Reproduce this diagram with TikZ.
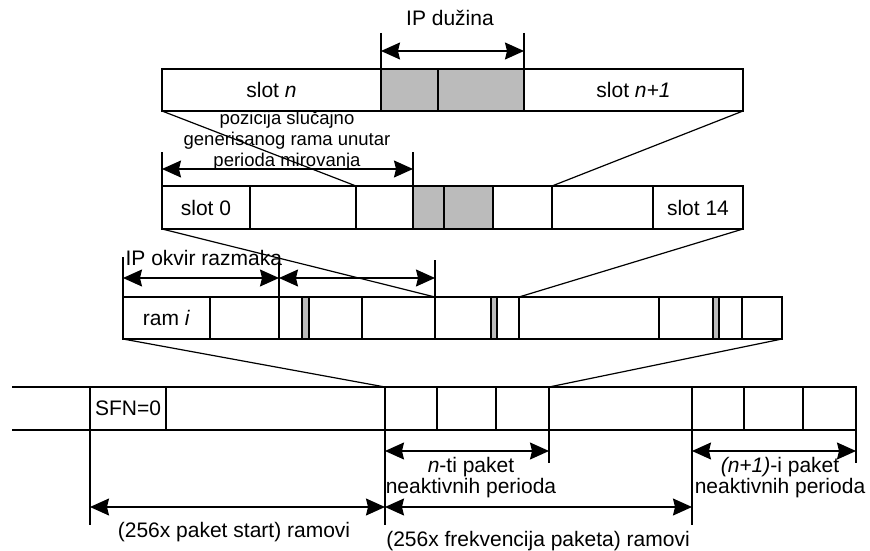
\documentclass[tikz,border=0pt]{standalone}
\usepackage{fontspec}
\setmainfont{Liberation Sans}
\usetikzlibrary{positioning,arrows.meta}
\definecolor{ipgray}{RGB}{187,187,187}

\begin{document}
\begin{tikzpicture}[x=1pt, y=-1pt, line width=1.2pt,
    every node/.style={font=\fontsize{21}{21}\selectfont},
    cell/.style={draw, inner sep=0pt, outer sep=0pt, minimum height=42pt},
    ipcell/.style={cell, fill=ipgray},
    dimtip/.tip={Stealth[length=19pt, width=17pt, inset=2pt]},
    dim/.style={dimtip-dimtip}]
      \useasboundingbox (0,0) rectangle (870,551);
      % place nodes
      \node (s1) [cell, minimum width=219pt, anchor=west] at (162,90) {slot \textit{n}};
      \node (s2) [ipcell, minimum width=57pt, right=0pt of s1] {};
      \node (s3) [ipcell, minimum width=86pt, right=0pt of s2] {};
      \node (s4) [cell, minimum width=219pt, right=0pt of s3] {slot \textit{n+1}};

      \node (p1) [cell, minimum height=43pt, minimum width=88pt, anchor=west] at (162,207.5) {slot 0};
      \node (p2) [cell, minimum height=43pt, minimum width=106pt, right=0pt of p1] {};
      \node (p3) [cell, minimum height=43pt, minimum width=57pt, right=0pt of p2] {};
      \node (p4) [ipcell, minimum height=43pt, minimum width=31pt, right=0pt of p3] {};
      \node (p5) [ipcell, minimum height=43pt, minimum width=49pt, right=0pt of p4] {};
      \node (p6) [cell, minimum height=43pt, minimum width=59pt, right=0pt of p5] {};
      \node (p7) [cell, minimum height=43pt, minimum width=101pt, right=0pt of p6] {};
      \node (p8) [cell, minimum height=43pt, minimum width=90pt, right=0pt of p7] {slot 14};

      \node (r1) [cell, minimum width=87pt, anchor=west] at (123,318) {ram \textit{i}};
      \node (r2) [cell, minimum width=69pt, right=0pt of r1] {};
      \node (r3) [cell, minimum width=23pt, right=0pt of r2] {};
      \node (r4) [ipcell, minimum width=7pt, right=0pt of r3] {};
      \node (r5) [cell, minimum width=53pt, right=0pt of r4] {};
      \node (r6) [cell, minimum width=73pt, right=0pt of r5] {};
      \node (r7) [cell, minimum width=56pt, right=0pt of r6] {};
      \node (r8) [ipcell, minimum width=6pt, right=0pt of r7] {};
      \node (r9) [cell, minimum width=22pt, right=0pt of r8] {};
      \node (r10) [cell, minimum width=140pt, right=0pt of r9] {};
      \node (r11) [cell, minimum width=54pt, right=0pt of r10] {};
      \node (r12) [ipcell, minimum width=6pt, right=0pt of r11] {};
      \node (r13) [cell, minimum width=23pt, right=0pt of r12] {};
      \node (r14) [cell, minimum width=40pt, right=0pt of r13] {};

      \coordinate (f0a) at (12,387);
      \coordinate (f0b) at (12,430);
      \node (f1) [cell, minimum height=43pt, minimum width=76pt, anchor=west] at (90,408.5) {SFN=0};
      \node (f2) [cell, minimum height=43pt, minimum width=219pt, right=0pt of f1] {};
      \node (f3) [cell, minimum height=43pt, minimum width=52pt, right=0pt of f2] {};
      \node (f4) [cell, minimum height=43pt, minimum width=59pt, right=0pt of f3] {};
      \node (f5) [cell, minimum height=43pt, minimum width=53pt, right=0pt of f4] {};
      \node (f6) [cell, minimum height=43pt, minimum width=143pt, right=0pt of f5] {};
      \node (f7) [cell, minimum height=43pt, minimum width=52pt, right=0pt of f6] {};
      \node (f8) [cell, minimum height=43pt, minimum width=59pt, right=0pt of f7] {};
      \node (f9) [cell, minimum height=43pt, minimum width=53pt, right=0pt of f8] {};

      \node (ipd) at (450,18) {IP dužina};
      \node (poz) [align=center, font=\fontsize{18.5}{21}\selectfont] at (287,141) {pozicija slučajno\\generisanog rama unutar\\perioda mirovanja};
      \node (okv) [anchor=west, inner sep=0pt] at (125,258) {IP okvir razmaka};
      \node (npk) [align=center] at (471,478) {\textit{n}-ti paket\\neaktivnih perioda};
      \node (n1pk) [align=center] at (780,478) {\textit{(n+1)}-i paket\\neaktivnih perioda};
      \node (stp) at (234,532) {(256x paket start) ramovi};
      \node (frq) at (538,541) {(256x frekvencija paketa) ramovi};
      % draw edges
      \draw (f0a) -- (f1.north west);
      \draw (f0b) -- (f1.south west);

      \draw (s1.south west) -- (p3.north west);
      \draw (s4.south east) -- (p7.north west);
      \draw (p1.south west) -- (r7.north west);
      \draw (p8.south east) -- (r10.north west);
      \draw (r1.south west) -- (f3.north west);
      \draw (r14.south east) -- (f6.north west);

      \draw ([yshift=36pt]s2.north west) -- (s2.north west);
      \draw ([yshift=36pt]s3.north east) -- (s3.north east);
      \draw [dim] ([yshift=18pt]s2.north west) -- ([yshift=18pt]s3.north east);

      \draw ([yshift=34pt]p1.north west) -- (p1.north west);
      \draw ([yshift=34pt]p4.north west) -- (p4.north west);
      \draw [dim] ([yshift=17pt]p1.north west) -- ([yshift=17pt]p4.north west);

      \draw ([yshift=40pt]r1.north west) -- (r1.north west);
      \draw ([yshift=35pt]r3.north west) -- (r3.north west);
      \draw ([yshift=37pt]r7.north west) -- (r7.north west);
      \draw [dim] ([yshift=19pt]r1.north west) -- ([yshift=19pt]r3.north west);
      \draw [dim] ([yshift=19pt]r3.north west) -- ([yshift=19pt]r7.north west);

      \draw (f5.south east) -- ([yshift=-33pt]f5.south east);
      \draw (f9.south east) -- ([yshift=-33pt]f9.south east);
      \draw [dim] ([yshift=-21pt]f3.south west) -- ([yshift=-21pt]f5.south east);
      \draw [dim] ([yshift=-21pt]f7.south west) -- ([yshift=-21pt]f9.south east);

      \draw (f1.south west) -- ([yshift=-95pt]f1.south west);
      \draw (f3.south west) -- ([yshift=-95pt]f3.south west);
      \draw (f7.south west) -- ([yshift=-95pt]f7.south west);
      \draw [dim] ([yshift=-77pt]f1.south west) -- ([yshift=-77pt]f3.south west);
      \draw [dim] ([yshift=-77pt]f3.south west) -- ([yshift=-77pt]f7.south west);
\end{tikzpicture}
\end{document}
